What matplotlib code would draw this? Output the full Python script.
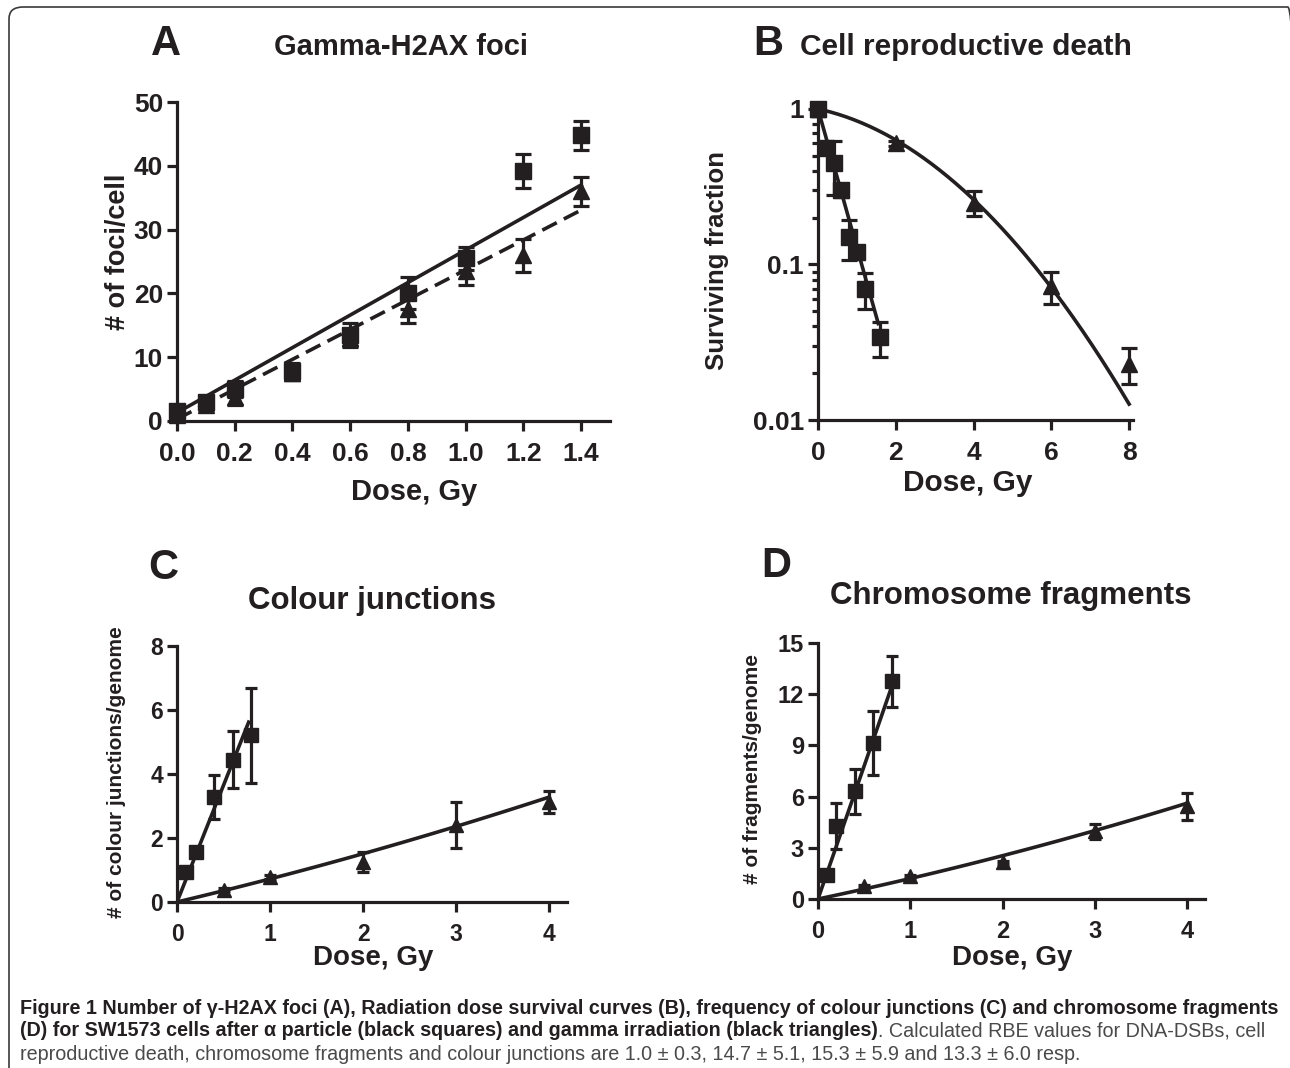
import numpy as np
import matplotlib
matplotlib.use('Agg')
import matplotlib.pyplot as plt
from matplotlib.patches import FancyBboxPatch
from matplotlib.ticker import FixedLocator, LogLocator, NullFormatter, FuncFormatter

# ---- data ----
# A: gamma-H2AX foci
foci_dose = [0, 0.1, 0.2, 0.4, 0.6, 0.8, 1.0, 1.2, 1.4]
foci_alpha = [1.5, 2.9, 5.0, 7.8, 13.5, 20.0, 25.5, 39.2, 44.8]
foci_alpha_err = [0.8, 1.0, 1.2, 1.3, 1.8, 2.5, 1.8, 2.7, 2.3]
foci_gamma = [1.0, 2.5, 3.8, 7.5, 13.0, 17.6, 23.5, 26.0, 36.0]
foci_gamma_err = [0.5, 0.8, 1.3, 1.0, 1.4, 2.2, 2.2, 2.6, 2.3]
foci_fit_alpha = (1.3, 25.5)    # intercept, slope
foci_fit_gamma = (0.3, 23.4)

# B: survival
surv_dose_alpha = [0, 0.2, 0.4, 0.6, 0.8, 1.0, 1.2, 1.6]
surv_alpha = [1.0, 0.56, 0.45, 0.30, 0.15, 0.12, 0.07, 0.034]
surv_alpha_err = [0.02, 0.04, 0.17, 0.03, 0.043, 0.012, 0.018, 0.0085]
surv_dose_gamma = [0, 2, 4, 6, 8]
surv_gamma = [1.0, 0.60, 0.25, 0.073, 0.023]
surv_gamma_err = [0.02, 0.02, 0.045, 0.017, 0.006]
surv_fit_alpha = (2.05, 0.0, 1.55)      # alpha, beta, max dose
surv_fit_gamma = (0.1246, 0.0527, 8.0)

# C: colour junctions
cj_dose_alpha = [0.1, 0.2, 0.4, 0.6, 0.8]
cj_alpha = [0.94, 1.56, 3.28, 4.45, 5.21]
cj_alpha_err = [0.1, 0.1, 0.68, 0.9, 1.48]
cj_dose_gamma = [0.5, 1, 2, 3, 4]
cj_gamma = [0.39, 0.78, 1.25, 2.4, 3.13]
cj_gamma_err = [0.05, 0.05, 0.32, 0.72, 0.35]
cj_fit_alpha = (7.3, 0.0, 0.77)
cj_fit_gamma = (0.69, 0.0325, 4.0)

# D: chromosome fragments
fr_dose_alpha = [0.1, 0.2, 0.4, 0.6, 0.8]
fr_alpha = [1.43, 4.3, 6.3, 9.14, 12.75]
fr_alpha_err = [0.2, 1.35, 1.3, 1.85, 1.5]
fr_dose_gamma = [0.5, 1, 2, 3, 4]
fr_gamma = [0.74, 1.33, 2.15, 3.96, 5.43]
fr_gamma_err = [0.1, 0.1, 0.1, 0.42, 0.8]
fr_fit_alpha = (15.6, 0.0, 0.8)
fr_fit_gamma = (1.135, 0.0675, 4.0)

INK = '#231f20'
W, H = 1290, 1068
plt.rcParams['font.family'] = ['Liberation Sans', 'DejaVu Sans']
plt.rcParams['font.weight'] = 'bold'

fig = plt.figure(figsize=(W / 100, H / 100), dpi=100)


def box(l, t, r, b):
    return [l / W, 1 - b / H, (r - l) / W, (b - t) / H]


def ftext(x, y, s, **kw):
    kw.setdefault('ha', 'center')
    kw.setdefault('va', 'center')
    kw.setdefault('color', INK)
    kw.setdefault('fontweight', 'bold')
    return fig.text(x / W, 1 - y / H, s, **kw)


def style(ax, tsize, ticklen=7):
    for s in ['top', 'right']:
        ax.spines[s].set_visible(False)
    for s in ['left', 'bottom']:
        ax.spines[s].set_linewidth(2.3)
        ax.spines[s].set_color(INK)
    ax.tick_params(which='major', length=ticklen, width=2.3, color=INK,
                   labelsize=tsize, labelcolor=INK, pad=3)
    ax.tick_params(axis='x', which='major', pad=8)
    for lab in ax.get_xticklabels() + ax.get_yticklabels():
        lab.set_fontweight('bold')
    ax.patch.set_alpha(0)


def points(ax, x, y, e, marker, ms, cap):
    ax.errorbar(x, y, yerr=e, fmt=marker, ms=ms, color=INK, ecolor=INK,
                elinewidth=2.3, capsize=cap, capthick=2.3, clip_on=False, zorder=4)


# ---- A ----
axA = fig.add_axes(box(177, 102, 610, 421))
xx = np.array([0, 1.4])
axA.plot(xx, foci_fit_alpha[0] + foci_fit_alpha[1] * xx, color=INK, lw=2.6, zorder=3)
axA.plot(xx, foci_fit_gamma[0] + foci_fit_gamma[1] * xx, color=INK, lw=2.6,
         dashes=(4.5, 2.2), zorder=3)
points(axA, foci_dose, foci_alpha, foci_alpha_err, 's', 11.5, 5.5)
points(axA, foci_dose, foci_gamma, foci_gamma_err, '^', 12, 5.5)
axA.set_xlim(0, 1.5)
axA.set_ylim(0, 50)
axA.set_xticks([0, 0.2, 0.4, 0.6, 0.8, 1.0, 1.2, 1.4])
axA.set_xticklabels(['0.0', '0.2', '0.4', '0.6', '0.8', '1.0', '1.2', '1.4'])
axA.set_yticks([0, 10, 20, 30, 40, 50])
style(axA, 19)

# ---- B ----
axB = fig.add_axes(box(818, 105, 1133, 420))
axB.set_yscale('log')
for (a, b, dmax) in [surv_fit_alpha, surv_fit_gamma]:
    d = np.linspace(0, dmax, 200)
    axB.plot(d, np.exp(-(a * d + b * d ** 2)), color=INK, lw=2.6, zorder=3)
points(axB, surv_dose_alpha, surv_alpha, surv_alpha_err, 's', 11, 5.5)
points(axB, surv_dose_gamma, surv_gamma, surv_gamma_err, '^', 11.5, 5.5)
axB.set_xlim(0, 8.1)
axB.set_ylim(0.01, 1.06)
axB.set_xticks([0, 2, 4, 6, 8])
axB.yaxis.set_major_locator(FixedLocator([0.01, 0.1, 1]))
axB.yaxis.set_major_formatter(FuncFormatter(lambda v, p: {0.01: '0.01', 0.1: '0.1', 1: '1'}.get(round(v, 2), '')))
axB.yaxis.set_minor_locator(LogLocator(base=10, subs=np.arange(2, 10)))
axB.yaxis.set_minor_formatter(NullFormatter())
axB.tick_params(which='minor', length=4, width=2.3, color=INK)
style(axB, 19)

# ---- C ----
axC = fig.add_axes(box(177, 646, 567, 902))
for (a, b, dmax) in [cj_fit_alpha, cj_fit_gamma]:
    d = np.linspace(0, dmax, 100)
    axC.plot(d, a * d + b * d ** 2, color=INK, lw=2.6, zorder=3)
points(axC, cj_dose_alpha, cj_alpha, cj_alpha_err, 's', 9.5, 4.5)
points(axC, cj_dose_gamma, cj_gamma, cj_gamma_err, '^', 10.5, 4.5)
axC.set_xlim(0, 4.19)
axC.set_ylim(0, 8)
axC.set_xticks([0, 1, 2, 3, 4])
axC.set_yticks([0, 2, 4, 6, 8])
style(axC, 16.5)

# ---- D ----
axD = fig.add_axes(box(818, 643, 1205, 899))
for (a, b, dmax) in [fr_fit_alpha, fr_fit_gamma]:
    d = np.linspace(0, dmax, 100)
    axD.plot(d, a * d + b * d ** 2, color=INK, lw=2.6, zorder=3)
points(axD, fr_dose_alpha, fr_alpha, fr_alpha_err, 's', 9.5, 4.5)
points(axD, fr_dose_gamma, fr_gamma, fr_gamma_err, '^', 10.5, 4.5)
axD.set_xlim(0, 4.19)
axD.set_ylim(0, 15)
axD.set_xticks([0, 1, 2, 3, 4])
axD.set_yticks([0, 3, 6, 9, 12, 15])
style(axD, 17)

# ---- panel letters, titles, axis labels ----
for x, y, s in [(166, 44, 'A'), (768, 44, 'B'), (163, 568, 'C'), (776, 566, 'D')]:
    ftext(x, y, s, fontsize=30)
ftext(401, 47, 'Gamma-H2AX foci', fontsize=21)
ftext(966, 47, 'Cell reproductive death', fontsize=21.5)
ftext(372, 601, 'Colour junctions', fontsize=22.5)
ftext(1011, 596, 'Chromosome fragments', fontsize=22.5)
ftext(414, 492, 'Dose, Gy', fontsize=21)
ftext(968, 483, 'Dose, Gy', fontsize=21.5)
ftext(373, 958, 'Dose, Gy', fontsize=20)
ftext(1012, 958, 'Dose, Gy', fontsize=20)
ftext(118, 252, '# of foci/cell', fontsize=19.5, rotation=90)
ftext(717, 261, 'Surviving fraction', fontsize=18.5, rotation=90)
ftext(117, 772, '# of colour junctions/genome', fontsize=15, rotation=90)
ftext(752, 769, '# of fragments/genome', fontsize=15, rotation=90)

# ---- frame ----
fig.patches.append(FancyBboxPatch((9 / W, -0.05), (1302 - 9) / W, 1 - 7 / H + 0.05,
                                  boxstyle='round,pad=0,rounding_size=0.011',
                                  transform=fig.transFigure, fill=False,
                                  edgecolor='#3a3a3a', lw=1.2))

# ---- caption ----
cap_fam = ['Liberation Sans Narrow', 'Liberation Sans', 'DejaVu Sans']
line1 = ('Figure 1 Number of \u03b3-H2AX foci (A), Radiation dose survival curves (B), '
         'frequency of colour junctions (C) and chromosome fragments')
line2b = ('(D) for SW1573 cells after \u03b1 particle (black squares) and gamma '
          'irradiation (black triangles)')
line2r = '. Calculated RBE values for DNA-DSBs, cell'
line3 = ('reproductive death, chromosome fragments and colour junctions are '
         '1.0 \u00b1 0.3, 14.7 \u00b1 5.1, 15.3 \u00b1 5.9 and 13.3 \u00b1 6.0 resp.')

t1 = ftext(20, 1008, line1, fontsize=13, ha='left', family=cap_fam)
fig.canvas.draw()
r = fig.canvas.get_renderer()
w1 = t1.get_window_extent(r).width
csize = 13 * (1255 / w1)
t1.set_fontsize(csize)
t2 = ftext(20, 1031, line2b, fontsize=csize, ha='left', family=cap_fam)
fig.canvas.draw()
x2 = t2.get_window_extent(r).x1
ftext(x2, 1031, line2r, fontsize=csize, ha='left', family=cap_fam,
      fontweight='normal', color='#4a4a4a')
ftext(20, 1054, line3, fontsize=csize, ha='left', family=cap_fam,
      fontweight='normal', color='#4a4a4a')

fig.savefig('out.png', dpi=100)
